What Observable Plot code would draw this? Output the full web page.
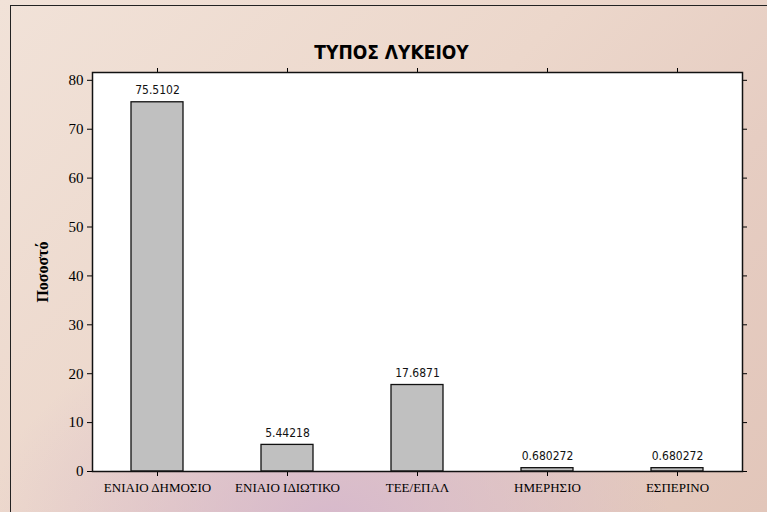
<!DOCTYPE html>
<html>
<head>
<meta charset="utf-8">
<script src="https://cdn.jsdelivr.net/npm/d3@7"></script>
<script src="https://cdn.jsdelivr.net/npm/@observablehq/plot@0.6"></script>
<style>
  html, body { margin: 0; padding: 0; }
  #wrap {
    position: relative; width: 767px; height: 512px; overflow: hidden;
    background:
      radial-gradient(ellipse 340px 210px at 330px 520px, rgba(214,184,204,0.95), rgba(214,184,204,0) 100%),
      linear-gradient(135deg, #f1e2d8 0%, #ecd7cb 45%, #e6cdc2 70%, #e2c6ba 100%);
  }
  #frame {
    position: absolute; left: 10px; top: 5px; width: 800px; height: 600px;
    border-left: 1.5px solid #222; border-top: 1.5px solid #222;
  }
  #wrap svg { position: absolute; left: 0; top: 0; }
</style>
</head>
<body>
<div id="wrap"><div id="frame"></div></div>
<script>
const categories = ["ΕΝΙΑΙΟ ΔΗΜΟΣΙΟ", "ΕΝΙΑΙΟ ΙΔΙΩΤΙΚΟ", "ΤΕΕ/ΕΠΑΛ", "ΗΜΕΡΗΣΙΟ", "ΕΣΠΕΡΙΝΟ"];
const values = [75.5102, 5.44218, 17.6871, 0.680272, 0.680272];
const valueLabels = ["75.5102", "5.44218", "17.6871", "0.680272", "0.680272"];
const yTicks = [0, 10, 20, 30, 40, 50, 60, 70, 80];
const title = "ΤΥΠΟΣ ΛΥΚΕΙΟΥ";
const yLabel = "Ποσοστό";

const data = categories.map((c, i) => ({cat: c, value: values[i], label: valueLabels[i]}));
const serif = "'Liberation Serif', 'DejaVu Serif', serif";
const cond = "'DejaVu Sans Condensed', 'Liberation Sans', Arial, sans-serif";

const chart = Plot.plot({
  width: 767, height: 512,
  marginLeft: 92, marginRight: 25, marginTop: 72, marginBottom: 41,
  style: {background: "transparent", overflow: "visible", color: "black"},
  x: {domain: categories, paddingInner: 0.6, paddingOuter: 0.3, label: null},
  y: {domain: [0, 81.6], label: null},
  marks: [
    Plot.frame({fill: "white", stroke: null}),
    Plot.barY(data, {x: "cat", y: "value", fill: "#c0c0c0", stroke: "#111", strokeWidth: 1.3}),
    Plot.text(data, {x: "cat", y: "value", text: "label", dy: -8, lineAnchor: "bottom",
      fontFamily: cond, fontSize: 12, fill: "#111"}),
    Plot.axisY({ticks: yTicks, tickSize: 5, tickPadding: 4, fontFamily: serif, fontSize: 15, label: null}),
    Plot.axisY({anchor: "right", ticks: yTicks, tickSize: 4, tickFormat: () => "", label: null}),
    Plot.axisX({anchor: "bottom", tickSize: 5, tickPadding: 6, fontFamily: serif, fontSize: 13, label: null}),
    Plot.axisX({anchor: "top", tickSize: 5, tickFormat: () => "", label: null}),
    Plot.frame({stroke: "#111", strokeWidth: 1.5}),
    Plot.text([yLabel], {frameAnchor: "left", textAnchor: "middle", dx: -50, rotate: -90, fontWeight: "bold",
      fontFamily: serif, fontSize: 16, fill: "black"}),
    Plot.text([title], {frameAnchor: "top", textAnchor: "middle", dx: -26, dy: -27, fontWeight: "bold",
      fontFamily: cond, fontSize: 19, fill: "black"})
  ]
});
document.getElementById("wrap").appendChild(chart);
</script>
</body>
</html>
